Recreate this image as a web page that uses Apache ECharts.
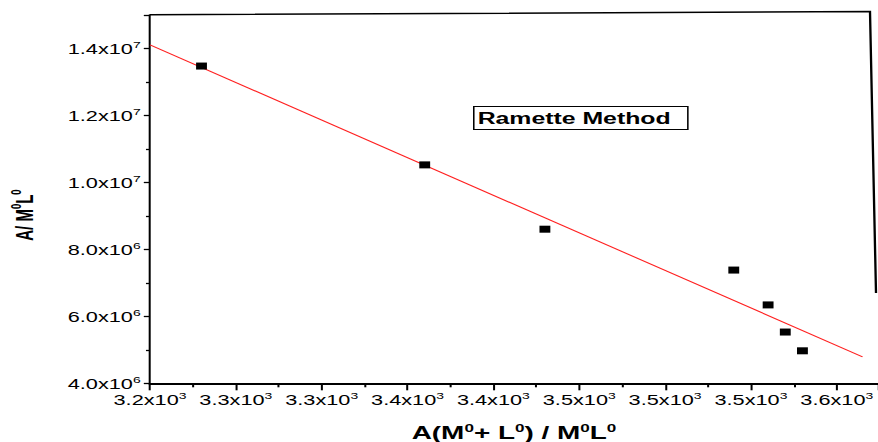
<!DOCTYPE html>
<html>
<head>
<meta charset="utf-8">
<script src="https://cdn.jsdelivr.net/npm/echarts@6/dist/echarts.min.js"></script>
<style>
html,body{margin:0;padding:0;background:#fff;overflow:hidden;width:878px;height:442px;}
#c{height:442px;transform-origin:0 0;}
</style>
</head>
<body>
<div id="c"></div>
<script>
// ---- data ----
const xValues = [3230, 3360, 3430, 3540, 3560, 3570, 3580];
const yValues = [13.47e6, 10.52e6, 8.60e6, 7.38e6, 6.34e6, 5.53e6, 4.97e6];
const fitX = [3200, 3615];
const fitY = [14.10e6, 4.79e6];
const xTickLabels = ['3.2', '3.3', '3.3', '3.4', '3.4', '3.5', '3.5', '3.5', '3.6'];
const xTickExp = '3';
const yTickMantissa = ['4.0', '6.0', '8.0', '1.0', '1.2', '1.4'];
const yTickExp = ['6', '6', '6', '7', '7', '7'];
const annotation = 'Ramette Method';

// ---- layout (the reference image is stretched horizontally) ----
const W = 566;
const S = 878 / W;
const el = document.getElementById('c');
el.style.width = W + 'px';
el.style.transform = 'scaleX(' + S + ')';

const FONT = "'Liberation Sans', Arial, sans-serif";
const X0 = 3200, XSTEP = 50, Y0 = 4e6, YSTEP = 2e6;

const tickRich = {
  n: {fontSize: 14, fontFamily: FONT, color: '#000', verticalAlign: 'bottom', lineHeight: 16},
  s: {fontSize: 9, fontFamily: FONT, color: '#000', verticalAlign: 'bottom', lineHeight: 10, padding: [0, 0, 7, 0]}
};
const nameRich = {
  b: {fontSize: 18, fontWeight: 'bold', fontFamily: FONT, color: '#000', verticalAlign: 'bottom', lineHeight: 18},
  s: {fontSize: 11, fontWeight: 'bold', fontFamily: FONT, color: '#000', verticalAlign: 'bottom', lineHeight: 10, padding: [0, 0, 8, 0]}
};
const yNameRich = {
  b: {fontSize: 15, fontWeight: 'bold', fontFamily: FONT, color: '#000', verticalAlign: 'bottom', lineHeight: 17},
  s: {fontSize: 9.5, fontWeight: 'bold', fontFamily: FONT, color: '#000', verticalAlign: 'bottom', lineHeight: 10, padding: [0, 0, 8, 0]}
};

const chart = echarts.init(el, null, {renderer: 'svg'});
chart.setOption({
  animation: false,
  backgroundColor: '#fff',
  grid: {left: 150 / S, right: 0, top: 14.8, bottom: 58.7, outerBoundsMode: 'none', containLabel: false},
  title: {
    text: annotation,
    left: 473 / S, top: 106,
    borderColor: '#000', borderWidth: 1,
    padding: [4, 11, 4, 3],
    textStyle: {fontSize: 16, fontWeight: 'bold', fontFamily: FONT, color: '#000'}
  },
  xAxis: {
    type: 'value', min: 3200, max: 3624, interval: XSTEP,
    name: '{b|A(M}{s|0}{b|+ L}{s|0}{b|) / M}{s|0}{b|L}{s|0}',
    nameLocation: 'middle', nameGap: 40.5,
    nameTextStyle: {rich: nameRich},
    axisLine: {lineStyle: {color: '#000', width: 2}},
    axisTick: {show: true, inside: false, length: 7, lineStyle: {color: '#000', width: 1.3}},
    minorTick: {show: true, splitNumber: 2, length: 4, lineStyle: {color: '#000', width: 1.3}},
    splitLine: {show: false},
    axisLabel: {
      margin: 8, showMaxLabel: false,
      formatter: function (v) {
        const i = Math.round((v - X0) / XSTEP);
        if (Math.abs(v - (X0 + i * XSTEP)) > 1e-6 || i < 0 || i >= xTickLabels.length) return '';
        return '{n|' + xTickLabels[i] + 'x10}{s|' + xTickExp + '}';
      },
      rich: tickRich
    }
  },
  yAxis: {
    type: 'value', min: 4e6, max: 15e6, interval: YSTEP,
    name: '{b|A/ M}{s|0}{b|L}{s|0}',
    nameLocation: 'middle', nameGap: 73, nameRotate: 90,
    nameTextStyle: {rich: yNameRich, padding: [0, 32, 0, 0]},
    axisLine: {lineStyle: {color: '#000', width: 1.3}},
    axisTick: {show: true, inside: false, length: 4, lineStyle: {color: '#000', width: 1.3}},
    minorTick: {show: true, splitNumber: 2, length: 2.6, lineStyle: {color: '#000', width: 1.3}},
    splitLine: {show: false},
    axisLabel: {
      margin: 6, showMaxLabel: false,
      formatter: function (v) {
        const i = Math.round((v - Y0) / YSTEP);
        if (Math.abs(v - (Y0 + i * YSTEP)) > 1 || i < 0 || i >= yTickMantissa.length) return '';
        return '{n|' + yTickMantissa[i] + 'x10}{s|' + yTickExp[i] + '}';
      },
      rich: tickRich
    }
  },
  graphic: [{
    type: 'polyline', silent: true,
    shape: {points: [[150 / S, 14.8], [870 / S, 11.5], [876 / S, 293]]},
    style: {stroke: '#000', lineWidth: 1.5, fill: null}
  }],
  series: [
    {
      type: 'line', name: 'fit',
      data: fitX.map((x, i) => [x, fitY[i]]),
      showSymbol: false, symbol: 'none',
      lineStyle: {color: '#ff2020', width: 1},
      z: 2
    },
    {
      type: 'scatter', name: 'data',
      data: xValues.map((x, i) => [x, yValues[i]]),
      symbol: 'rect', symbolSize: [7, 7],
      itemStyle: {color: '#000', opacity: 1},
      z: 3
    }
  ]
});
</script>
</body>
</html>
